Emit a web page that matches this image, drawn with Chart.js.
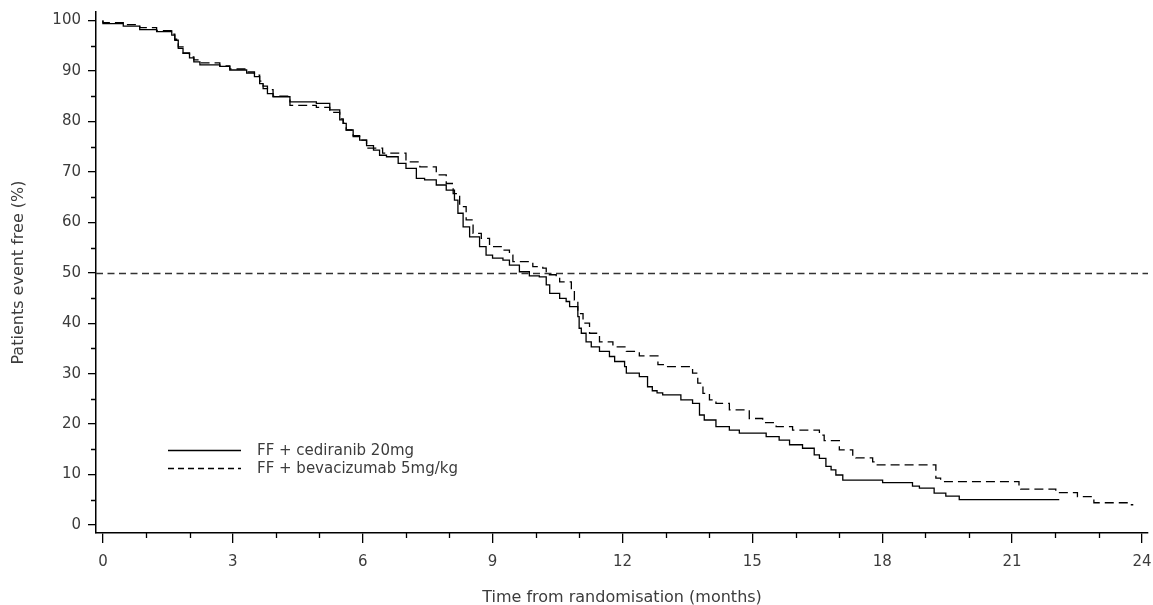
<!DOCTYPE html>
<html>
<head>
<meta charset="utf-8">
<title>Patients event free</title>
<script src="https://cdn.jsdelivr.net/npm/chart.js@4.4.1/dist/chart.umd.min.js"></script>
<style>
  body { margin: 0; background: #fff; }
</style>
</head>
<body>
<canvas id="kmChart" width="1153" height="605"></canvas>
<script>
// curves: time in months, % patients event free
const cedTimes = [0, 0.47, 0.85, 1.24, 1.59, 1.66, 1.74, 1.85, 2.0, 2.1, 2.24, 2.7, 2.93, 3.32, 3.5, 3.62, 3.7, 3.8, 3.93, 4.32,
  4.93, 5.24, 5.47, 5.55, 5.62, 5.78, 5.93, 6.09, 6.25, 6.39, 6.55, 6.82, 7.0, 7.24, 7.43, 7.7, 7.93, 8.12, 8.2, 8.32,
  8.47, 8.7, 8.85, 9.0, 9.24, 9.39, 9.62, 9.85, 10.08, 10.24, 10.32, 10.55, 10.7, 10.78, 10.97, 11.0, 11.05, 11.16, 11.28, 11.47,
  11.7, 11.82, 12.05, 12.09, 12.39, 12.58, 12.69, 12.8, 12.93, 13.35, 13.62, 13.78, 13.89, 14.16, 14.47, 14.7, 15.32, 15.62, 15.86, 16.16,
  16.43, 16.55, 16.7, 16.82, 16.93, 17.09, 18.01, 18.7, 18.86, 19.2, 19.47, 19.78, 22.09]
const cedValues = [100, 99.4, 98.9, 98.2, 97.8, 97.1, 96.1, 94.5, 93.5, 92.6, 91.8, 91.2, 90.9, 90.2, 89.6, 88.9, 87.5, 86.5, 85.5, 84.9,
  83.9, 83.6, 82.3, 80.3, 79.6, 78.3, 77.0, 76.3, 75.2, 74.3, 73.3, 73.0, 71.7, 70.7, 68.7, 68.4, 67.4, 66.4, 64.4, 61.8,
  59.1, 57.1, 55.2, 53.5, 52.9, 52.5, 51.5, 50.2, 49.4, 49.2, 47.6, 45.9, 44.9, 44.3, 43.3, 41.3, 39.0, 38.0, 36.3, 35.3,
  34.4, 33.4, 32.4, 31.4, 30.1, 29.4, 27.4, 26.6, 26.2, 25.8, 24.8, 24.1, 21.8, 20.8, 19.5, 18.8, 18.2, 17.5, 16.8, 15.9,
  15.2, 13.9, 13.2, 11.6, 10.9, 9.9, 8.9, 8.4, 7.7, 7.3, 6.3, 5.7, 5.0]

const bevTimes = [0, 0.47, 0.85, 1.24, 1.59, 1.66, 1.74, 1.85, 2.0, 2.1, 2.24, 2.7, 2.93, 3.32, 3.5, 3.62, 3.7, 3.8, 3.93, 4.32,
  4.93, 5.24, 5.47, 5.55, 5.62, 5.78, 5.93, 6.09, 6.46, 7.0, 7.32, 7.7, 7.93, 8.09, 8.24, 8.39, 8.55, 8.74, 8.93, 9.2,
  9.39, 9.47, 9.93, 10.16, 10.24, 10.47, 10.55, 10.82, 10.89, 10.97, 11.09, 11.24, 11.47, 11.78, 12.09, 12.39, 12.82, 13.01, 13.62, 13.74,
  13.86, 14.01, 14.16, 14.47, 14.93, 15.24, 15.55, 15.93, 16.55, 16.66, 17.01, 17.32, 17.39, 17.78, 17.85, 19.24, 19.35, 21.16, 21.2, 22.01,
  22.51, 22.89, 23.74, 23.8]
const bevValues = [100, 99.6, 99.2, 98.6, 98.0, 97.3, 96.3, 94.8, 93.6, 92.8, 92.2, 91.6, 91.0, 90.4, 89.8, 89.2, 88.0, 87.0, 86.3, 85.0,
  83.2, 82.8, 81.8, 80.5, 79.6, 78.3, 77.2, 76.3, 74.7, 73.7, 72.0, 71.0, 69.4, 67.7, 65.7, 63.1, 60.5, 57.8, 56.8, 55.2,
  54.5, 53.5, 52.2, 51.2, 50.9, 49.6, 49.2, 48.2, 46.6, 44.6, 41.9, 40.0, 38.0, 36.3, 35.3, 34.4, 33.5, 31.8, 31.4, 30.1,
  28.1, 26.1, 24.8, 24.1, 22.8, 21.1, 20.3, 19.5, 18.8, 17.8, 16.7, 14.9, 13.7, 13.3, 12.5, 11.9, 9.3, 8.6, 7.7, 7.1,
  6.4, 5.6, 4.4, 4.0]

const seriesLabels = ['FF + cediranib 20mg', 'FF + bevacizumab 5mg/kg']
const refLevel = 50 // median line

const xTicks = [0, 3, 6, 9, 12, 15, 18, 21, 24]
const xMinor = [1, 2, 4, 5, 7, 8, 10, 11, 13, 14, 16, 17, 19, 20, 22, 23]
const yTicks = [0, 10, 20, 30, 40, 50, 60, 70, 80, 90, 100]
const yMinor = [5, 15, 25, 35, 45, 55, 65, 75, 85, 95]

const xTitle = 'Time from randomisation (months)'
const yTitle = 'Patients event free (%)'

const fontFamily = '"DejaVu Sans", sans-serif'
const textColor = '#3c3c3c'

function toPoints(times, values) {
  return times.map((t, i) => ({ x: t, y: values[i] }))
}

// short ticks between the labelled ones
const minorTicks = {
  id: 'minorTicks',
  afterDraw(chart) {
    const { ctx, chartArea, scales } = chart
    ctx.save()
    ctx.strokeStyle = '#000'
    ctx.lineWidth = 1.3
    ctx.beginPath()
    xMinor.forEach(v => {
      const px = Math.round(scales.x.getPixelForValue(v)) + 0.5
      ctx.moveTo(px, chartArea.bottom)
      ctx.lineTo(px, chartArea.bottom + 5)
    })
    yMinor.forEach(v => {
      const py = Math.round(scales.y.getPixelForValue(v)) + 0.5
      ctx.moveTo(chartArea.left, py)
      ctx.lineTo(chartArea.left - 5, py)
    })
    ctx.stroke()
    ctx.restore()
  }
}

// dashed horizontal line at 50%
const refLine = {
  id: 'refLine',
  beforeDatasetsDraw(chart) {
    const { ctx, chartArea, scales } = chart
    const py = Math.round(scales.y.getPixelForValue(refLevel)) + 0.5
    ctx.save()
    ctx.strokeStyle = '#333'
    ctx.lineWidth = 1.3
    ctx.setLineDash([7, 4.5])
    ctx.beginPath()
    ctx.moveTo(chartArea.left, py)
    ctx.lineTo(chartArea.right, py)
    ctx.stroke()
    ctx.restore()
  }
}

// legend sits inside the plot, lower left
const kmLegend = {
  id: 'kmLegend',
  afterDraw(chart) {
    const { ctx, chartArea } = chart
    const x0 = chartArea.left + 72
    const x1 = chartArea.left + 145
    const rows = [chartArea.top + 438, chartArea.top + 456]
    const dashes = [[], [6, 4]]
    ctx.save()
    ctx.font = '15px ' + fontFamily
    ctx.textBaseline = 'middle'
    ctx.fillStyle = textColor
    rows.forEach((y, i) => {
      ctx.strokeStyle = '#000'
      ctx.lineWidth = 1.3
      ctx.setLineDash(dashes[i])
      ctx.beginPath()
      ctx.moveTo(x0, y + 0.5)
      ctx.lineTo(x1, y + 0.5)
      ctx.stroke()
      ctx.fillText(seriesLabels[i], x1 + 16, y + 1)
    })
    ctx.restore()
  }
}

const ctx = document.getElementById('kmChart').getContext('2d')
const kmChart = new Chart(ctx, {
  type: 'line',
  data: {
    datasets: [{
      label: seriesLabels[0],
      data: toPoints(cedTimes, cedValues),
      borderColor: '#000',
      borderWidth: 1.3,
      stepped: 'after',
      pointRadius: 0,
      fill: false
    }, {
      label: seriesLabels[1],
      data: toPoints(bevTimes, bevValues),
      borderColor: '#000',
      borderWidth: 1.3,
      borderDash: [9, 5],
      stepped: 'after',
      pointRadius: 0,
      fill: false
    }]
  },
  options: {
    responsive: false,
    animation: false,
    layout: { padding: { top: 12, right: 5, left: 0, bottom: 0 } },
    plugins: {
      legend: { display: false },
      tooltip: { enabled: false }
    },
    scales: {
      x: {
        type: 'linear',
        min: -0.16,
        max: 24.14,
        afterBuildTicks: (scale) => { scale.ticks = xTicks.map(v => ({ value: v })) },
        afterFit: (scale) => {
          scale.height = 72
          scale.paddingLeft = 0
          scale.paddingRight = 0
        },
        ticks: { color: textColor, font: { family: fontFamily, size: 15 }, padding: 10, maxRotation: 0, autoSkip: false },
        grid: { drawOnChartArea: false, tickLength: 10, color: '#000', lineWidth: 1.3 },
        border: { color: '#000', width: 1.5 },
        title: { display: true, text: xTitle, color: textColor, font: { family: fontFamily, size: 16 }, padding: { top: 12, bottom: -2 } }
      },
      y: {
        type: 'linear',
        min: -1.6,
        max: 101.7,
        afterBuildTicks: (scale) => { scale.ticks = yTicks.map(v => ({ value: v })) },
        afterFit: (scale) => {
          scale.width = 96
          scale.paddingTop = 0
          scale.paddingBottom = 0
        },
        ticks: { color: textColor, font: { family: fontFamily, size: 15 }, padding: 7, autoSkip: false },
        grid: { drawOnChartArea: false, tickLength: 8, color: '#000', lineWidth: 1.3 },
        border: { color: '#000', width: 1.5 },
        title: { display: true, text: yTitle, color: textColor, font: { family: fontFamily, size: 16 }, padding: { top: 9, bottom: 0 } }
      }
    }
  },
  plugins: [minorTicks, refLine, kmLegend]
})
</script>
</body>
</html>
